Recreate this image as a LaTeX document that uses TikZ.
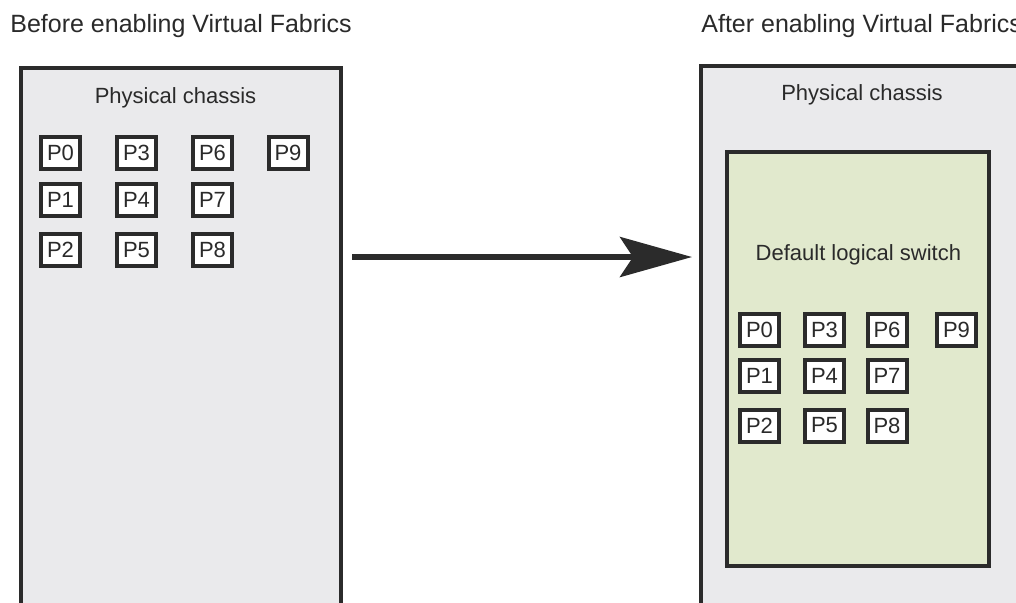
\documentclass[tikz,border=0pt]{standalone}
\usepackage{fontspec}
\setmainfont{Liberation Sans}
\usepackage{tikz}
\usetikzlibrary{arrows.meta}
\usetikzlibrary{positioning}
\definecolor{framegray}{HTML}{2B2B2B}
\definecolor{chassisgray}{HTML}{EAEAEC}
\definecolor{switchgreen}{HTML}{E1E9CD}
\definecolor{inkgray}{HTML}{2A2A2A}
\tikzset{chassis/.style = {draw = framegray, fill = chassisgray, line width = 2pt},
         lswitch/.style = {draw = framegray, fill = switchgreen, line width = 2pt},
         port/.style = {draw = framegray, fill = white, line width = 2pt,
                        minimum width = 19.5pt, minimum height = 16pt,
                        inner sep = 0pt, font = \fontsize{11}{13}\selectfont,
                        text = inkgray},
         label/.style = {font = \fontsize{11}{13}\selectfont, text = inkgray,
                         inner sep = 0pt},
         heading/.style = {font = \fontsize{12.5}{14}\selectfont, text = inkgray,
                           inner sep = 0pt, anchor = base west},
         flow/.style = {draw = framegray, line width = 3pt,
                        -{Stealth[length = 36pt, width = 20pt, inset = 6.5pt]}}}

\begin{document}
\begin{tikzpicture}[x = 0.5pt, y = -0.5pt]
      \useasboundingbox (0, 0) rectangle (1016, 602);
      \clip (0, 0) rectangle (1016, 602);
      % before
      \node [heading] (before) at (10, 32) {Before enabling Virtual Fabrics};
      \draw [chassis] (21, 67.5) rectangle (341, 700);
      \node [label, anchor = base] (chl) at (175.5, 103) {Physical chassis};
      \foreach \p/\x/\y in {0/60.5/152.5, 1/60.5/199.5, 2/60.5/250,
                            3/136.5/152.5, 4/136.5/199.5, 5/136.5/250,
                            6/212.5/152.5, 7/212.5/199.5, 8/212.5/250,
                            9/288/152.5}
        \node [port] (lp\p) at (\x, \y) {P\p};
      % after
      \node [heading] (after) at (701, 32) {After enabling Virtual Fabrics};
      \draw [chassis] (700.5, 65.5) rectangle (1100, 700);
      \node [label, anchor = base] (chr) at (862, 100.7) {Physical chassis};
      \draw [lswitch] (726.5, 151.5) rectangle (989, 565.5);
      \node [label, anchor = base] (dls) at (858.4, 260) {Default logical switch};
      \foreach \p/\x/\y in {0/759.5/329.5, 1/759.5/375.5, 2/759.5/425.5,
                            3/824.5/329.5, 4/824.5/375.5, 5/824.5/425.5,
                            6/887/329.5, 7/887/375.5, 8/887/425.5,
                            9/956.5/329.5}
        \node [port] (rp\p) at (\x, \y) {P\p};
      % enabling
      \coordinate (go) at (352, 257);
      \coordinate (arrive) at (692, 257);
      \draw [flow] (go) -- (arrive);
    \end{tikzpicture}
\end{document}
